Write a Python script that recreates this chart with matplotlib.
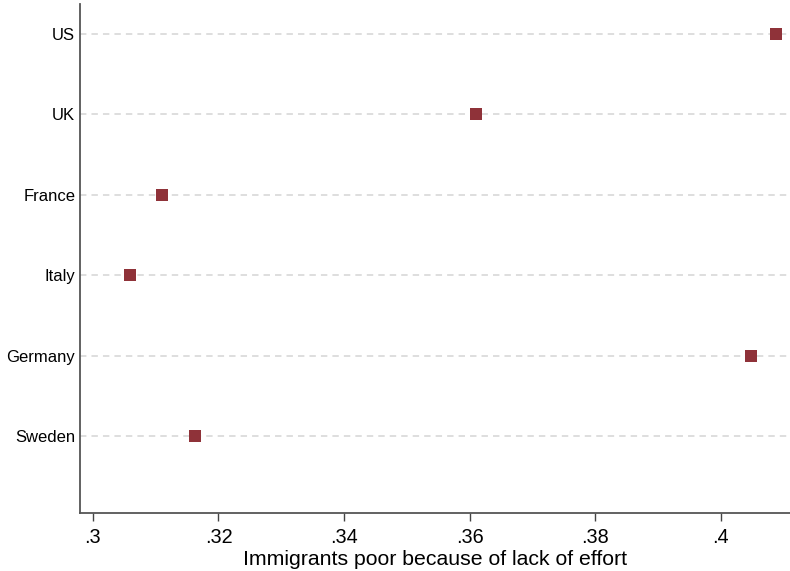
import matplotlib
matplotlib.use("Agg")
import matplotlib.pyplot as plt

countries = ["US", "UK", "France", "Italy", "Germany", "Sweden"]
values = [0.4089, 0.3610, 0.3110, 0.3059, 0.4049, 0.3162]
xticks = [0.30, 0.32, 0.34, 0.36, 0.38, 0.40]
xticklabels = [".3", ".32", ".34", ".36", ".38", ".4"]
xlabel = "Immigrants poor because of lack of effort"

plt.rcParams['font.family'] = ['Liberation Sans', 'DejaVu Sans']

fig = plt.figure(figsize=(7.9, 5.71), dpi=100)
ax = fig.add_axes([80/790, 58/571, 710/790, 509/571])

n = len(countries)
ypos = list(range(n, 0, -1))

for y in ypos:
    ax.axhline(y, color='#dedede', lw=1.4, dashes=(3.3, 2.6), zorder=1)

ax.plot(values, ypos, 's', color='#8f3239', markersize=8.6, markeredgewidth=0, zorder=3, clip_on=False)

ax.set_xlim(0.29794, 0.41106)
ax.set_ylim(1 - 77/80.4, n + 30/80.4)
ax.set_xticks(xticks)
ax.set_xticklabels(xticklabels, fontsize=14.3)
ax.set_yticks(ypos)
ax.set_yticklabels(countries, fontsize=12)
ax.tick_params(axis='y', length=0, pad=3.5)
ax.tick_params(axis='x', length=5.5, width=1, color='#444444', pad=5)
ax.set_xlabel(xlabel, fontsize=15.3, labelpad=2.5)

for s in ['top', 'right']:
    ax.spines[s].set_visible(False)
for s in ['left', 'bottom']:
    ax.spines[s].set_color('#555555')
    ax.spines[s].set_linewidth(1.3)

fig.savefig("out.png", dpi=100)
